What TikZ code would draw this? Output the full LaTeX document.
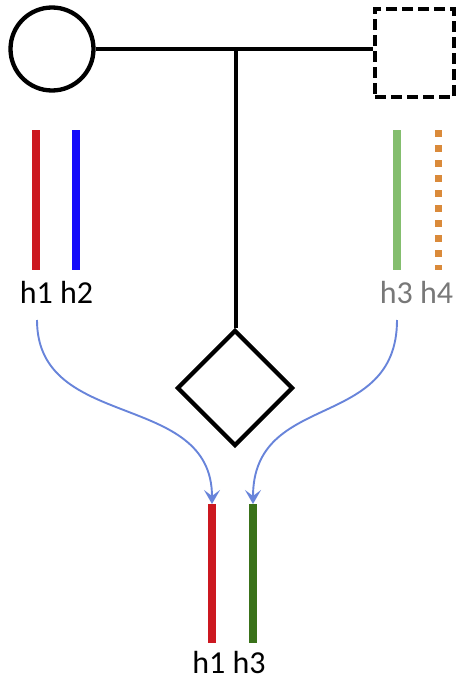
\documentclass[tikz,border=0pt]{standalone}
\usepackage{fontspec}
\setmainfont{Carlito}
\usetikzlibrary{shapes.geometric,arrows.meta}
\definecolor{hred}{RGB}{204,24,32}
\definecolor{hblue}{RGB}{20,10,250}
\definecolor{hlgreen}{RGB}{132,190,110}
\definecolor{horange}{RGB}{218,138,58}
\definecolor{hdgreen}{RGB}{58,114,26}
\definecolor{harrow}{RGB}{104,132,218}
\definecolor{hgray}{RGB}{120,120,120}
\tikzset{
  pedline/.style={line width=4.3pt,black},
  hap/.style={line width=8pt},
  lbl/.style={anchor=base,inner sep=0pt,font=\fontsize{32}{38}\selectfont},
  inh/.style={harrow,line width=1.9pt,-{Stealth[length=14pt,width=16pt,inset=6pt]}}
}
\begin{document}
\begin{tikzpicture}[x=1pt,y=-1pt]
\useasboundingbox (0,0) rectangle (457,680);
\node[circle,draw,pedline,minimum size=83pt,inner sep=0pt] (mother) at (52,49) {};
\node[rectangle,draw,pedline,dash pattern=on 11pt off 5pt,minimum width=79pt,minimum height=88pt,inner sep=0pt] (father) at (414.5,53) {};
\node[diamond,draw,pedline,minimum width=116pt,minimum height=116pt,inner sep=0pt,aspect=1] (child) at (235,388) {};
\coordinate (fm) at (mother.east -| father.west);
\coordinate (junc) at (236,49);
\draw[pedline] (mother.east) -- (fm);
\draw[pedline] (junc) -- (junc |- child.north);
% mother haplotypes
\coordinate (m1t) at (36,130); \coordinate (m1b) at (36,270);
\coordinate (m2t) at (76,130); \coordinate (m2b) at (76,270);
\draw[hap,hred] (m1t) -- (m1b);
\draw[hap,hblue] (m2t) -- (m2b);
\node[lbl] (mlab) at (56.5,303) {h1 h2};
% father haplotypes
\coordinate (f1t) at (397,130); \coordinate (f1b) at (397,270);
\coordinate (f2t) at (438,130); \coordinate (f2b) at (438,270);
\draw[hap,hlgreen] (f1t) -- (f1b);
\draw[line width=7pt,horange,dash pattern=on 7pt off 8pt] (f2t) -- (f2b);
\node[lbl,text=hgray] (flab) at (416.5,303) {h3 h4};
% child haplotypes
\coordinate (c1t) at (212,504); \coordinate (c1b) at (212,643);
\coordinate (c2t) at (253,504); \coordinate (c2b) at (253,643);
\draw[hap,hred] (c1t) -- (c1b);
\draw[hap,hdgreen] (c2t) -- (c2b);
\node[lbl] (clab) at (229,673) {h1 h3};
% inheritance arrows
\coordinate (a1) at (37,320);
\coordinate (a2) at (397,320);
\draw[inh] (a1) .. controls (37,432) and (212,390) .. (c1t);
\draw[inh] (a2) .. controls (397,432) and (253,390) .. (c2t);
\end{tikzpicture}
\end{document}
